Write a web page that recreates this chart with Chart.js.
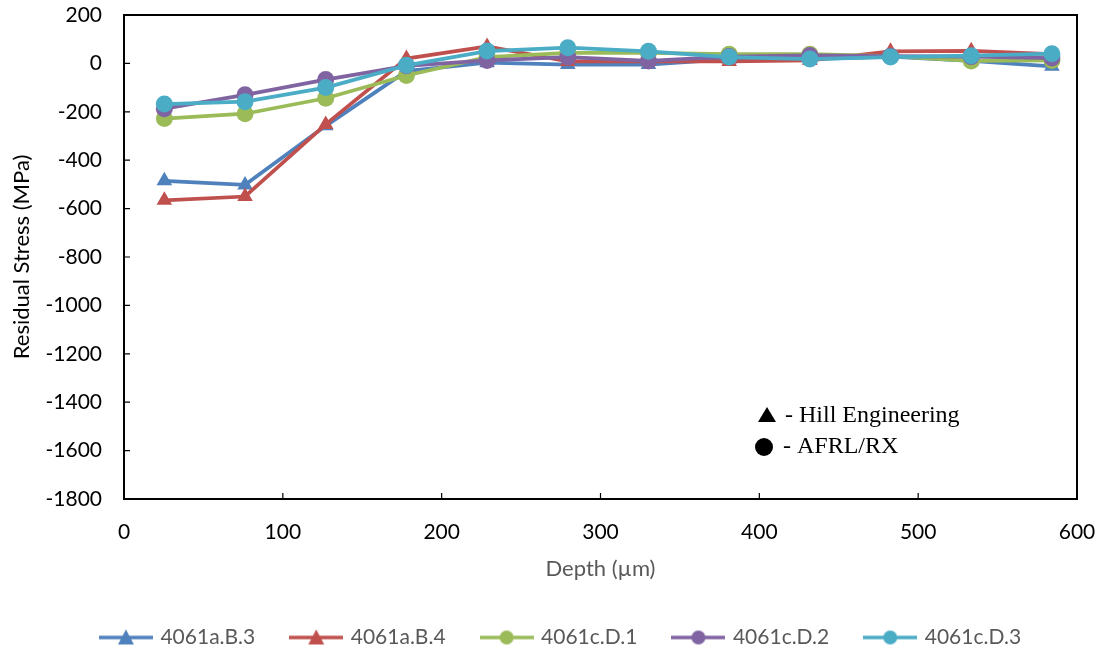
<!DOCTYPE html>
<html><head><meta charset="utf-8">
<script src="https://cdn.jsdelivr.net/npm/chart.js@4.4.0/dist/chart.umd.min.js"></script>
<style>html,body{margin:0;padding:0;background:#fff}#w{width:1101px;height:653px}</style>
</head><body><div id="w"><canvas id="c"></canvas></div>
<script>
const depths = [25.4, 76.2, 127, 177.8, 228.6, 279.4, 330.2, 381, 431.8, 482.6, 533.4, 584.2];
const seriesNames = ['4061a.B.3', '4061a.B.4', '4061c.D.1', '4061c.D.2', '4061c.D.3'];
const b3 = [-485, -502, -258, -32, 3, -5, -5, 18, 18, 28, 10, -12];
const b4 = [-566, -550, -252, 20, 70, 8, 8, 8, 12, 50, 52, 38];
const d1 = [-228, -208, -144, -50, 26, 43, 43, 38, 38, 30, 10, 12];
const d2 = [-187, -130, -67, -10, 12, 26, 10, 28, 33, 30, 28, 22];
const d3 = [-168, -158, -100, -8, 51, 65, 50, 26, 18, 26, 32, 40];
const yTicks = [200, 0, -200, -400, -600, -800, -1000, -1200, -1400, -1600, -1800];
const xTicks = [0, 100, 200, 300, 400, 500, 600];

const colors = ['#4F81BD', '#C0504D', '#9BBB59', '#8064A2', '#4BACC6'];
const styles = ['triangle', 'triangle', 'circle', 'circle', 'circle'];
const values = [b3, b4, d1, d2, d3];

function legendIcon(color, style) {
  const cv = document.createElement('canvas');
  cv.width = 54; cv.height = 20;
  const g = cv.getContext('2d');
  g.strokeStyle = color; g.lineWidth = 3.5;
  g.beginPath(); g.moveTo(0, 10); g.lineTo(54, 10); g.stroke();
  g.fillStyle = color;
  g.beginPath();
  if (style === 'triangle') { g.moveTo(27, 2); g.lineTo(35, 17); g.lineTo(19, 17); g.closePath(); }
  else { g.arc(27, 10, 7, 0, Math.PI * 2); }
  g.fill();
  return cv;
}

const datasets = seriesNames.map((n, i) => ({
  label: n,
  data: depths.map((d, k) => ({x: d, y: values[i][k]})),
  borderColor: colors[i],
  backgroundColor: colors[i],
  pointStyle: styles[i],
  pointRadius: styles[i] === 'triangle' ? 9 : 8.5,
  pointHoverRadius: 9,
  pointBorderWidth: 0,
  borderWidth: 3.75,
  showLine: true,
  order: 5 - i,
  legendIcon: legendIcon(colors[i], styles[i])
}));

const framePlugin = {
  id: 'frame',
  afterLayout(chart) {
    const lg = chart.legend;
    if (lg) { lg.left += 23; lg.right += 23; lg.top += 5; lg.bottom += 5; }
  },
  afterDraw(chart) {
    const {ctx, chartArea: a, scales} = chart;
    ctx.save();
    ctx.strokeStyle = '#000';
    ctx.lineWidth = 2;
    ctx.strokeRect(a.left, a.top, a.right - a.left, a.bottom - a.top);
    ctx.lineWidth = 1.2;
    ctx.beginPath();
    yTicks.forEach(v => { const y = scales.y.getPixelForValue(v); ctx.moveTo(a.left, y); ctx.lineTo(a.left + 6, y); });
    xTicks.forEach(v => { const x = scales.x.getPixelForValue(v); ctx.moveTo(x, a.bottom); ctx.lineTo(x, a.bottom - 6); });
    ctx.stroke();
    // annotation key
    ctx.fillStyle = '#000';
    ctx.beginPath(); ctx.moveTo(767, 407); ctx.lineTo(776, 422); ctx.lineTo(758, 422); ctx.closePath(); ctx.fill();
    ctx.beginPath(); ctx.arc(764, 447, 9, 0, Math.PI * 2); ctx.fill();
    ctx.font = '24px "Liberation Serif"';
    ctx.textBaseline = 'alphabetic';
    ctx.fillText('- Hill Engineering', 785, 422);
    ctx.fillText('- AFRL/RX', 783, 453);
    ctx.restore();
  }
};

const noPad = s => { s.paddingTop = 0; s.paddingBottom = 0; s.paddingLeft = 0; s.paddingRight = 0; };

new Chart(document.getElementById('c'), {
  type: 'scatter',
  data: {datasets},
  plugins: [framePlugin],
  options: {
    responsive: true, maintainAspectRatio: false, animation: false,
    layout: {padding: {top: 15, right: 24, bottom: 0, left: 0}},
    plugins: {
      tooltip: {enabled: false},
      legend: {
        position: 'bottom',
        labels: {
          usePointStyle: true,
          pointStyleWidth: 48,
          boxHeight: 20,
          padding: 37,
          color: '#595959',
          font: {family: 'Lato', size: 21, lineHeight: 1},
          generateLabels(chart) {
            return chart.data.datasets.map((ds, i) => ({
              text: ds.label, datasetIndex: i, pointStyle: ds.legendIcon,
              fillStyle: ds.borderColor, strokeStyle: ds.borderColor, lineWidth: 0,
              fontColor: '#595959', hidden: false
            }));
          }
        }
      }
    },
    scales: {
      x: {
        type: 'linear', min: 0, max: 600,
        afterBuildTicks: s => { s.ticks = xTicks.map(v => ({value: v})); },
        afterFit: s => { s.height = 86; noPad(s); },
        grid: {display: false, drawTicks: false},
        border: {display: false},
        ticks: {color: '#000', font: {family: 'Lato', size: 21}, padding: 21, maxRotation: 0, callback: v => String(v)},
        title: {display: true, text: 'Depth (µm)', color: '#595959', font: {family: 'Lato', size: 22}, padding: {top: 0, bottom: 3}}
      },
      y: {
        type: 'linear', min: -1800, max: 200,
        afterBuildTicks: s => { s.ticks = yTicks.map(v => ({value: v})); },
        afterFit: s => { s.width = 124; noPad(s); },
        grid: {display: false, drawTicks: false},
        border: {display: false},
        ticks: {color: '#000', font: {family: 'Lato', size: 21}, padding: 22, callback: v => String(v)},
        title: {display: true, text: 'Residual Stress (MPa)', color: '#000', font: {family: 'Lato', size: 22}, padding: {top: 9, bottom: 0}}
      }
    }
  }
});
</script>
</body></html>
